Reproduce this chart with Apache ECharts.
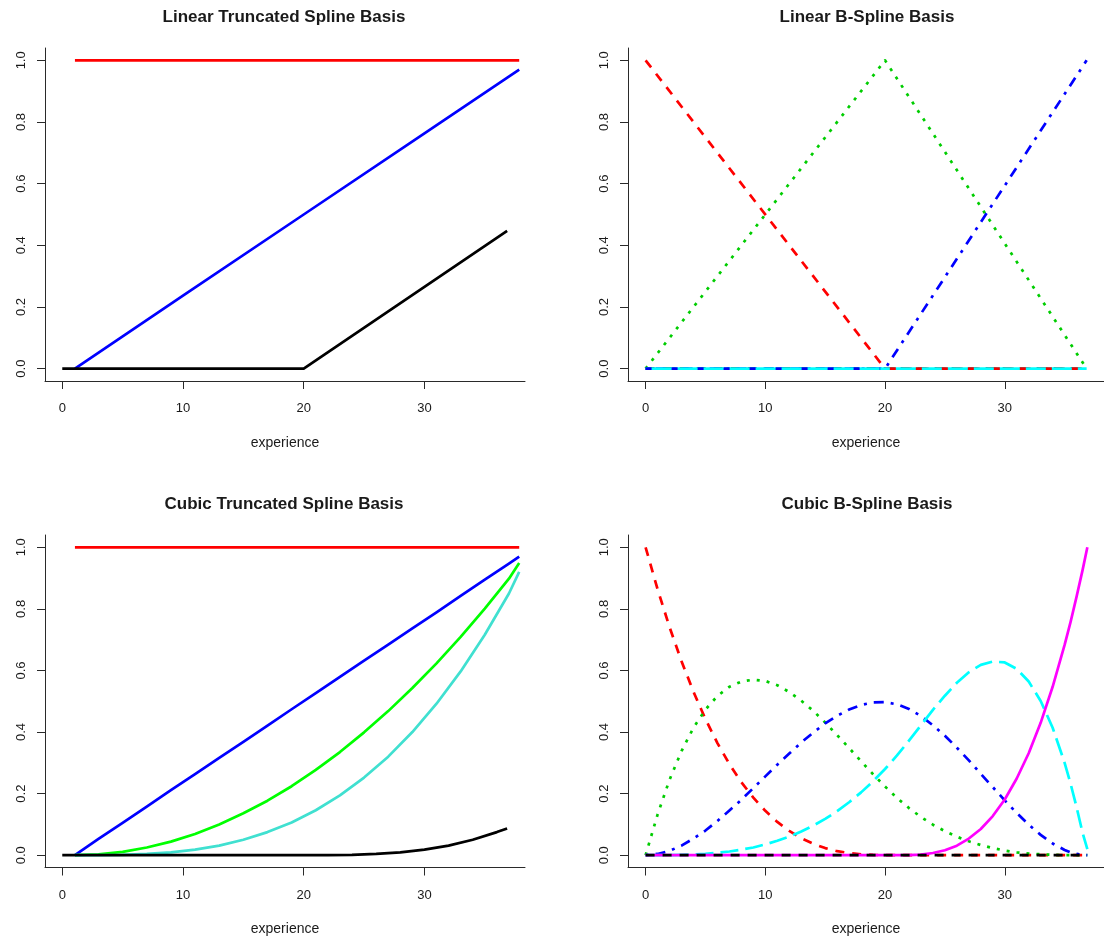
<!DOCTYPE html>
<html>
<head>
<meta charset="utf-8">
<script src="https://cdn.jsdelivr.net/npm/echarts@6/dist/echarts.min.js"></script>
<style>
  html, body { margin: 0; padding: 0; background: #ffffff; }
  #chart { width: 1104px; height: 939px; }
</style>
</head>
<body>
<div id="chart"></div>
<script>
// ---- Titles and tick labels ----
const panelTitles = [
  'Linear Truncated Spline Basis',
  'Linear B-Spline Basis',
  'Cubic Truncated Spline Basis',
  'Cubic B-Spline Basis'
];
const xAxisTitle = 'experience';
const xTicks = [0, 10, 20, 30];
const yTicks = [0, 0.2, 0.4, 0.6, 0.8, 1.0];

// ---- Linear truncated power basis ----
const ltX = [1.05, 10, 20, 30, 37.85];
const ltIntercept = [1, 1, 1, 1, 1];
const ltLinear = [0, 0.237, 0.5, 0.763, 0.97];
const ltKnotX = [0, 20, 36.85];
const ltKnot = [0, 0, 0.447];

// ---- Linear B-spline basis ----
const lbX = [0, 20, 36.84];
const lbB1 = [1, 0, 0];
const lbB2 = [0, 1, 0];
const lbB3 = [0, 0, 1];
const lbZero = [0, 0, 0];
const lbLowX = [0, 19.6];
const lbHighX = [20.4, 36.84];
const lbFlat = [0, 0];

// ---- Cubic truncated power basis ----
const ctX = [1.05, 3, 5, 7, 9, 11, 13, 15, 17, 19, 21, 23, 25, 27, 29, 31, 33, 35, 37, 37.85];
const ctIntercept = [1, 1, 1, 1, 1, 1, 1, 1, 1, 1, 1, 1, 1, 1, 1, 1, 1, 1, 1, 1];
const ctLinear = [0, 0.053, 0.105, 0.158, 0.211, 0.263, 0.316, 0.368, 0.421, 0.474, 0.526, 0.579, 0.632, 0.684, 0.737, 0.789, 0.842, 0.895, 0.947, 0.97];
const ctQuad = [0, 0.003, 0.011, 0.025, 0.044, 0.069, 0.100, 0.136, 0.177, 0.224, 0.277, 0.335, 0.399, 0.468, 0.543, 0.623, 0.709, 0.801, 0.898, 0.949];
const ctCubic = [0, 0.000, 0.001, 0.004, 0.009, 0.018, 0.031, 0.050, 0.075, 0.106, 0.146, 0.194, 0.252, 0.320, 0.400, 0.492, 0.597, 0.716, 0.850, 0.92];
const ctKnotX = [0, 20, 22, 24, 26, 28, 30, 32, 34, 36, 36.85];
const ctKnot = [0, 0, 0.000, 0.001, 0.004, 0.009, 0.018, 0.031, 0.050, 0.075, 0.087];

// ---- Cubic B-spline basis ----
const cbX = [0, 1, 2, 3, 4, 5, 6, 7, 8, 9, 10, 11, 12, 13, 14, 15, 16, 17, 18, 19, 20,
             21, 22, 23, 24, 25, 26, 27, 28, 29, 30, 31, 32, 33, 34, 35, 35.5, 36, 36.5, 36.9];
const cbB1 = [1, 0.864, 0.741, 0.630, 0.531, 0.442, 0.364, 0.296, 0.237, 0.187, 0.144, 0.108, 0.079, 0.055, 0.037, 0.023, 0.013, 0.007, 0.003, 0.001, 0,
              0, 0, 0, 0, 0, 0, 0, 0, 0, 0, 0, 0, 0, 0, 0, 0, 0, 0, 0];
const cbB2 = [0, 0.132, 0.245, 0.338, 0.414, 0.473, 0.517, 0.547, 0.564, 0.570, 0.566, 0.552, 0.530, 0.502, 0.469, 0.431, 0.390, 0.348, 0.305, 0.263, 0.223,
              0.186, 0.153, 0.124, 0.099, 0.078, 0.060, 0.045, 0.033, 0.023, 0.015, 0.009, 0.005, 0.003, 0.001, 0, 0, 0, 0, 0];
const cbB3 = [0, 0.004, 0.014, 0.031, 0.054, 0.080, 0.111, 0.145, 0.180, 0.218, 0.256, 0.294, 0.330, 0.366, 0.398, 0.428, 0.453, 0.473, 0.488, 0.496, 0.497,
              0.490, 0.475, 0.452, 0.422, 0.388, 0.349, 0.308, 0.264, 0.221, 0.178, 0.137, 0.099, 0.066, 0.038, 0.017, 0.009, 0.004, 0.001, 0];
const cbB4 = [0, 0, 0, 0.001, 0.002, 0.004, 0.008, 0.012, 0.018, 0.025, 0.035, 0.047, 0.060, 0.077, 0.096, 0.118, 0.143, 0.172, 0.204, 0.240, 0.280,
              0.324, 0.372, 0.422, 0.472, 0.518, 0.560, 0.594, 0.618, 0.629, 0.626, 0.605, 0.564, 0.501, 0.414, 0.300, 0.232, 0.156, 0.073, 0.02];
const cbB5 = [0, 0, 0, 0, 0, 0, 0, 0, 0, 0, 0, 0, 0, 0, 0, 0, 0, 0, 0, 0, 0,
              0, 0.000, 0.002, 0.007, 0.016, 0.031, 0.054, 0.085, 0.127, 0.181, 0.249, 0.331, 0.430, 0.547, 0.683, 0.758, 0.840, 0.926, 1.0];
const cbZeroX = [0, 36.9];
const cbZero = [0, 0];

// ---- Layout of the 2x2 panels (pixels) ----
const panels = [
  { left: 45,  top: 48,  width: 480, height: 333,   xMin: -1.43, xMax: 38.33, cx: 284, titleY: 17 },
  { left: 628, top: 48,  width: 480, height: 333,   xMin: -1.47, xMax: 38.29, cx: 867, titleY: 17 },
  { left: 45,  top: 535, width: 480, height: 332.5, xMin: -1.43, xMax: 38.33, cx: 284, titleY: 504 },
  { left: 628, top: 535, width: 480, height: 332.5, xMin: -1.47, xMax: 38.29, cx: 867, titleY: 504 }
];

const FONT = '"Liberation Sans", Arial, sans-serif';
const INK = '#1a1a1a';
const AXIS_INK = '#2a2a2a';
const LW = 2.7;

const zip = (xs, ys) => xs.map((x, i) => [x, ys[i]]);

function line(g, xs, ys, color, dash, width) {
  return {
    type: 'line',
    xAxisIndex: g,
    yAxisIndex: g,
    data: zip(xs, ys),
    symbol: 'none',
    silent: true,
    animation: false,
    lineStyle: {
      color: color,
      width: width || LW,
      type: dash || 'solid',
      cap: 'butt',
      join: 'round'
    }
  };
}

const DASH = [9, 8];
const DOT = [3, 7];
const DOTDASH = [3, 7, 10, 7];
const LONGDASH = [18, 7];

const series = [
  // Linear truncated basis
  line(0, ltX, ltIntercept, '#ff0000'),
  line(0, ltX, ltLinear, '#0000ff'),
  line(0, ltKnotX, ltKnot, '#000000'),

  // Linear B-spline basis
  line(1, lbX, lbZero, '#000000', DASH),
  line(1, lbX, lbB1, '#ff0000', DASH),
  line(1, lbX, lbB2, '#00cd00', DOT),
  line(1, lbX, lbB3, '#0000ff', DOTDASH),
  line(1, lbX, lbZero, '#00ffff', 'solid', 2.8),
  line(1, lbLowX, lbFlat, '#0000ee', [6, 20], 2.6),
  line(1, lbHighX, lbFlat, '#ee0000', [6, 20], 2.6),

  // Cubic truncated basis
  line(2, ctX, ctIntercept, '#ff0000'),
  line(2, ctX, ctLinear, '#0000ff'),
  line(2, ctX, ctQuad, '#00ff00'),
  line(2, ctX, ctCubic, '#40e0d0'),
  line(2, ctKnotX, ctKnot, '#000000'),

  // Cubic B-spline basis
  line(3, cbX, cbB1, '#ff0000', DASH),
  line(3, cbX, cbB2, '#00cd00', DOT),
  line(3, cbX, cbB3, '#0000ff', DOTDASH),
  line(3, cbX, cbB4, '#00ffff', LONGDASH),
  line(3, cbX, cbB5, '#ff00ff', 'solid'),
  line(3, cbZeroX, cbZero, '#000000', DASH)
];

const grid = panels.map(p => ({
  left: p.left, top: p.top, width: p.width, height: p.height, containLabel: false
}));

const xAxis = panels.map((p, i) => ({
  type: 'value',
  gridIndex: i,
  min: p.xMin,
  max: p.xMax,
  name: xAxisTitle,
  nameLocation: 'middle',
  nameGap: 55,
  nameTextStyle: { fontFamily: FONT, fontSize: 14, color: INK },
  axisLine: { show: true, onZero: false, lineStyle: { color: AXIS_INK, width: 1 } },
  axisTick: { show: true, length: 8, customValues: xTicks, lineStyle: { color: AXIS_INK, width: 1 } },
  axisLabel: { customValues: xTicks, margin: 21, fontFamily: FONT, fontSize: 13, color: INK },
  splitLine: { show: false }
}));

const yAxis = panels.map((p, i) => ({
  type: 'value',
  gridIndex: i,
  min: -0.04,
  max: 1.04,
  axisLine: { show: true, onZero: false, lineStyle: { color: AXIS_INK, width: 1 } },
  axisTick: { show: true, length: 8, customValues: yTicks, lineStyle: { color: AXIS_INK, width: 1 } },
  axisLabel: {
    customValues: yTicks,
    rotate: 90,
    margin: 17,
    fontFamily: FONT,
    fontSize: 13,
    color: INK,
    formatter: v => v.toFixed(1)
  },
  splitLine: { show: false }
}));

const graphic = panels.map((p, i) => ({
  type: 'text',
  x: p.cx,
  y: p.titleY,
  silent: true,
  style: {
    text: panelTitles[i],
    font: 'bold 17px ' + FONT,
    fill: INK,
    align: 'center',
    verticalAlign: 'middle',
    textAlign: 'center',
    textVerticalAlign: 'middle'
  }
}));

const chart = echarts.init(document.getElementById('chart'), null, { renderer: 'canvas' });
chart.setOption({
  animation: false,
  backgroundColor: '#ffffff',
  grid: grid,
  xAxis: xAxis,
  yAxis: yAxis,
  graphic: graphic,
  series: series
});
</script>
</body>
</html>
